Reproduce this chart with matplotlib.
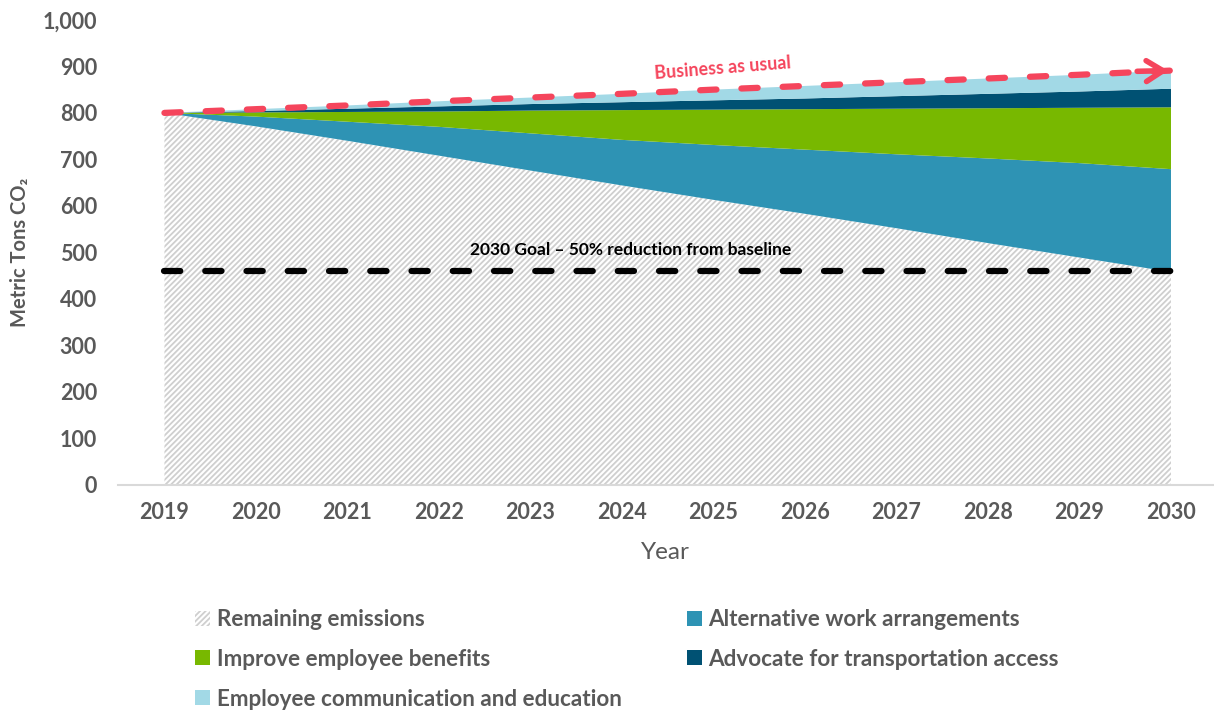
import numpy as np
import matplotlib
matplotlib.use('Agg')
import matplotlib.pyplot as plt

# --- Data ---
years = [2019, 2020, 2021, 2022, 2023, 2024, 2025, 2026, 2027, 2028, 2029, 2030]
remaining = [800, 771, 740, 708, 676, 644, 613, 583, 552, 520, 489, 458]
alt_work = [0, 21, 41, 62, 80, 98, 118, 138, 159, 182, 203, 221]
benefits = [0, 9, 21, 33, 49, 64, 76, 87, 98, 108, 119, 133]
transport = [0, 3, 7, 11, 14, 17, 20, 23, 27, 31, 35, 40]
comms = [0, 4, 7, 11, 14, 18, 23, 27, 30, 33, 36, 39]
bau = [800, 808, 816, 825, 833, 841, 850, 858, 866, 874, 882, 891]
goal = 460

labels = ['Remaining emissions', 'Alternative work arrangements',
          'Improve employee benefits', 'Advocate for transportation access',
          'Employee communication and education']
colors = ['white', '#2E93B4', '#78B800', '#005173', '#A2D9E6']
y_ticks = [0, 100, 200, 300, 400, 500, 600, 700, 800, 900, 1000]

grey = '#595959'
red = '#F5455C'

plt.rcParams['font.family'] = ['Lato', 'DejaVu Sans']
plt.rcParams['hatch.color'] = '#CFCFCF'
plt.rcParams['hatch.linewidth'] = 1.3

fig = plt.figure(figsize=(12.14, 7.10), dpi=100)
ax = fig.add_axes([0.097, 0.317, 0.903, 0.655])

polys = ax.stackplot(years, remaining, alt_work, benefits, transport, comms,
                     colors=colors, labels=labels, linewidth=0)
polys[0].set_hatch('//////')

# goal line
ax.plot(years, [goal] * len(years), color='black', lw=4.5,
        dashes=(2.6, 4.0), dash_capstyle='round')
ax.text(2024.1, goal + 28, '2030 Goal \u2013 50% reduction from baseline',
        ha='center', va='bottom', fontsize=12.5, fontweight='bold', color='black')

# business as usual
ax.plot(years, bau, color=red, lw=4.5, dashes=(2.6, 4.0), dash_capstyle='round')
ax.annotate('', xy=(years[-1], bau[-1]), xytext=(years[-1] - 0.4, bau[-1] - 1.7),
            arrowprops=dict(arrowstyle='->,head_length=1.2,head_width=0.75',
                            color=red, lw=4, capstyle='round', joinstyle='round'))
ax.text(2025.1, 866, 'Business as usual', ha='center', va='bottom',
        rotation=4.5, fontsize=12.8, fontweight='bold', color=red)

ax.set_xlim(2018.49, 2030.47)
ax.set_ylim(0, 1000)
ax.set_xticks(years)
ax.set_xticklabels([str(y) for y in years])
ax.set_yticks(y_ticks)
ax.set_yticklabels(['{:,}'.format(v) for v in y_ticks])
ax.tick_params(axis='both', length=0, labelsize=15.5, labelcolor=grey)
ax.tick_params(axis='x', pad=12)
ax.tick_params(axis='y', pad=15)
for lab in ax.get_xticklabels() + ax.get_yticklabels():
    lab.set_fontweight('bold')

for s in ['top', 'right', 'left']:
    ax.spines[s].set_visible(False)
ax.spines['bottom'].set_color('#D9D9D9')
ax.spines['bottom'].set_linewidth(1.5)

ax.set_xlabel('Year', fontsize=17.5, color=grey, labelpad=14)
ax.set_ylabel('Metric Tons CO\u2082', fontsize=14.5, fontweight='bold',
              color=grey, labelpad=9)

# legend: row-major order in the picture -> reorder for column-major fill
order = [0, 2, 4, 1, 3]
handles, labs = ax.get_legend_handles_labels()
leg = fig.legend([handles[i] for i in order], [labs[i] for i in order],
                 loc='upper left', bbox_to_anchor=(0.161, 0.142), ncol=2,
                 frameon=False, fontsize=16.2, handlelength=0.65, handleheight=0.65,
                 handletextpad=0.3, columnspacing=2.9, labelspacing=0.83,
                 borderpad=0, borderaxespad=0)
for t in leg.get_texts():
    t.set_color(grey)
    t.set_fontweight('bold')

fig.savefig('out.png', dpi=100)
